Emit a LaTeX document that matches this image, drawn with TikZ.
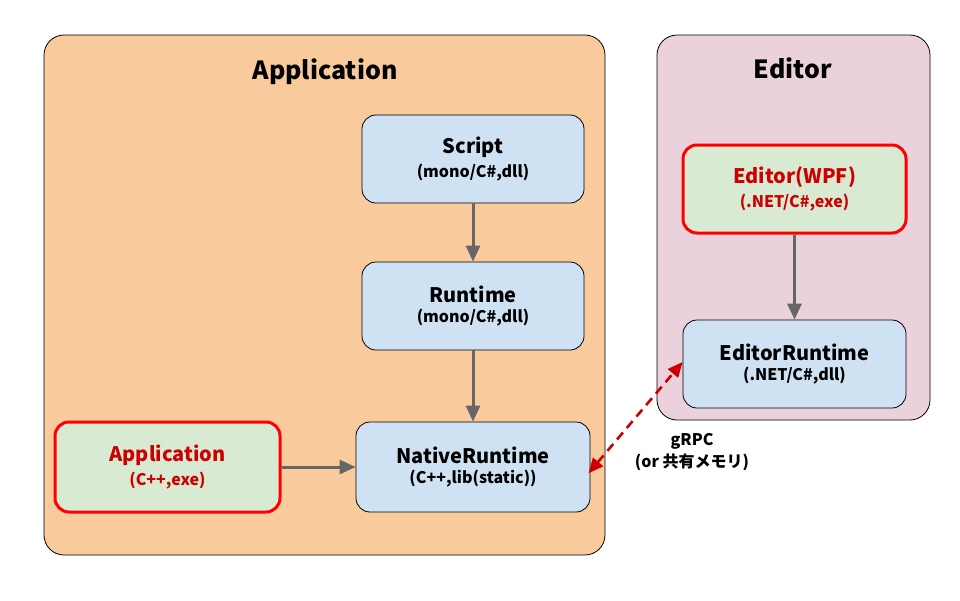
\documentclass[tikz,border=0pt]{standalone}
\usepackage{fontspec}
\setmainfont{Noto Sans CJK JP}
\usetikzlibrary{arrows.meta}
\definecolor{apporange}{HTML}{F9CB9C}
\definecolor{edpink}{HTML}{EAD1DC}
\definecolor{boxblue}{HTML}{CFE2F3}
\definecolor{boxgreen}{HTML}{D9EAD3}
\definecolor{redline}{HTML}{FF0000}
\definecolor{redtext}{HTML}{CC0000}
\definecolor{arrowgray}{HTML}{666666}
\tikzset{
  container/.style={draw=black, line width=0.8pt, rounded corners=20pt, inner sep=0pt},
  titletext/.style={font=\bfseries\fontsize{25}{28}\selectfont, text=black},
  compbox/.style={draw=black, line width=0.8pt, rounded corners=14pt, fill=boxblue,
    align=center, text=black, minimum width=222pt, minimum height=88pt, inner sep=0pt},
  exebox/.style={compbox, draw=redline, line width=3pt, fill=boxgreen, text=redtext},
  flow/.style={draw=arrowgray, line width=3pt, -{Triangle[length=16pt,width=14pt]}},
  ipc/.style={draw=redtext, line width=2.6pt, dash pattern=on 9pt off 6pt,
    {Triangle[length=15pt,width=13pt]}-{Triangle[length=15pt,width=13pt]}},
}
\newcommand{\mainline}[1]{{\bfseries\fontsize{20}{23}\selectfont #1}}
\newcommand{\subline}[1]{{\bfseries\fontsize{16}{19}\selectfont #1}}
\begin{document}
\begin{tikzpicture}[x=1pt,y=-1pt]
\useasboundingbox[fill=white] (0,0) rectangle (960,600);
% containers
\node[container, fill=apporange, minimum width=561pt, minimum height=520pt] (appc) at (324.5,295) {};
\node[container, fill=edpink, minimum width=273pt, minimum height=385pt] (edc) at (793.5,227.5) {};
\node[titletext] (apptitle) at (325,72) {Application};
\node[titletext] (edtitle) at (793,68) {Editor};
% components
\node[compbox] (script) at (473,159) {\mainline{Script}\\[5pt]\subline{(mono/C\#,dll)}};
\node[compbox] (runtime) at (473,306) {\mainline{Runtime}\\[5pt]\subline{(mono/C\#,dll)}};
\node[compbox, minimum width=234pt, minimum height=90pt] (native) at (473,467) {\mainline{NativeRuntime}\\[5pt]\subline{(C++,lib(static))}};
\node[exebox, minimum width=225pt, minimum height=90pt] (app) at (167.5,467) {\mainline{Application}\\[5pt]\subline{(C++,exe)}};
\node[exebox, minimum width=223pt] (wpf) at (794.5,189) {\mainline{Editor(WPF)}\\[5pt]\subline{(.NET/C\#,exe)}};
\node[compbox, minimum width=223pt] (edrt) at (794.5,364) {\mainline{EditorRuntime}\\[5pt]\subline{(.NET/C\#,dll)}};
% connectors
\draw[flow] (script) -- (runtime);
\draw[flow] (runtime) -- (native);
\draw[flow] (app) -- (native);
\draw[flow] (wpf) -- (edrt);
\draw[ipc, shorten <=-3pt, shorten >=0pt] ([yshift=-4pt]native.east) -- ([yshift=2pt]edrt.west);
\node[align=center, font=\bfseries\fontsize{16}{22}\selectfont] (ipclabel) at (692,452) {gRPC\\(or 共有メモリ)};
\end{tikzpicture}
\end{document}
